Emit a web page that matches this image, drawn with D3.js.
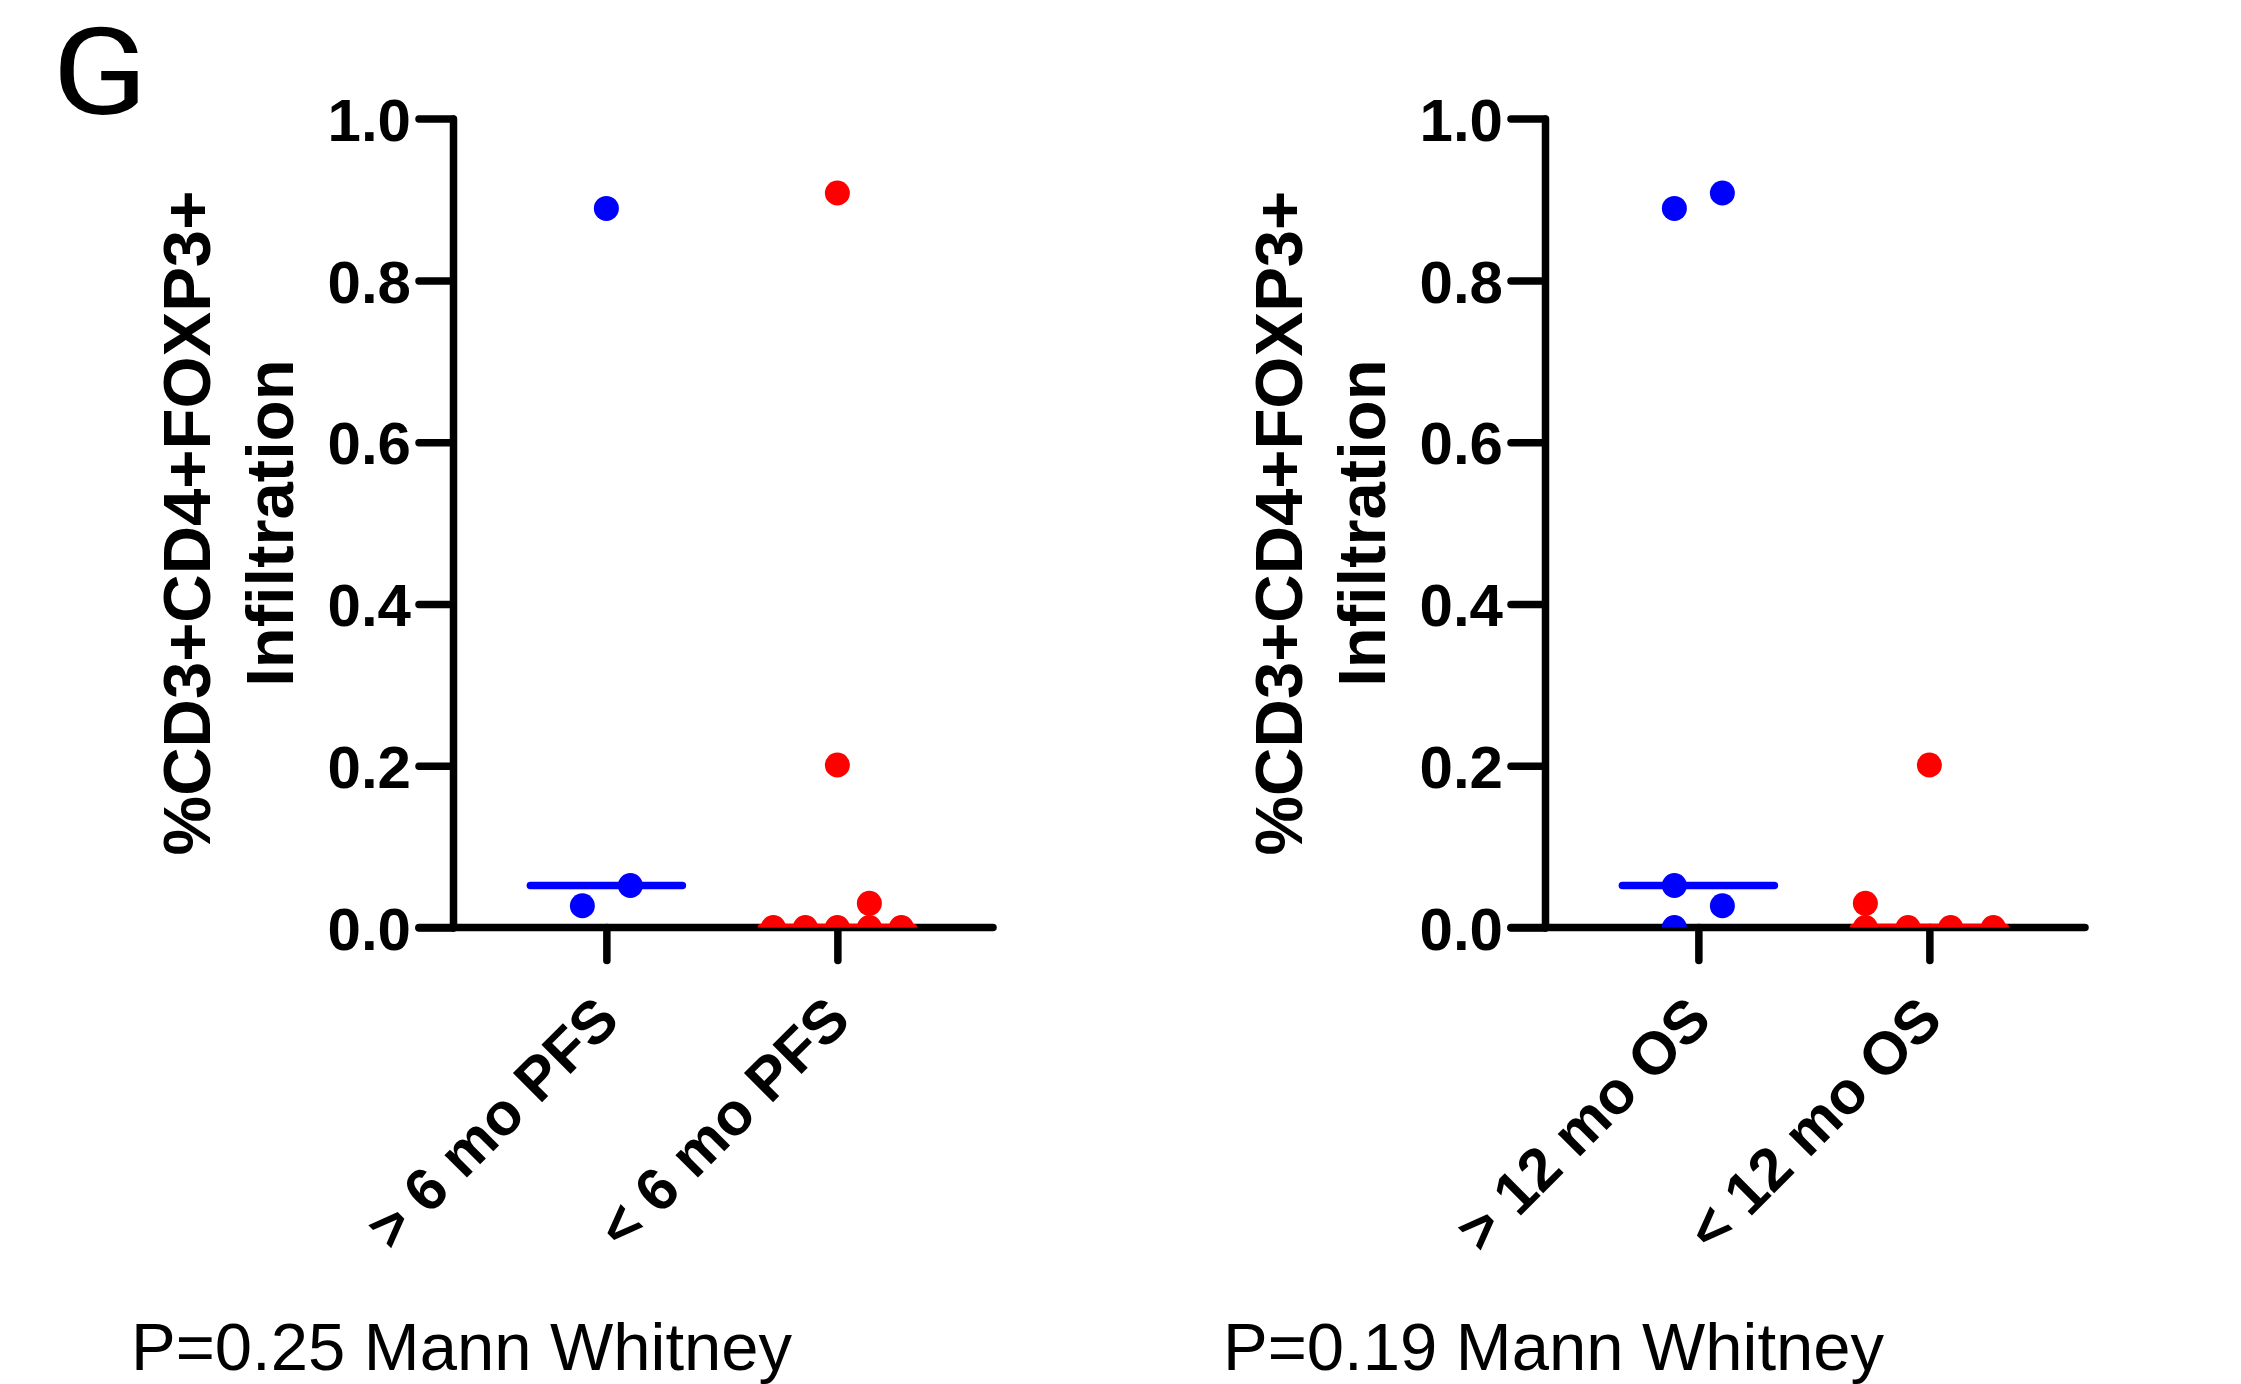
<!DOCTYPE html>
<html>
<head>
<meta charset="utf-8">
<script src="https://d3js.org/d3.v7.min.js"></script>
<style>
  html, body { margin: 0; padding: 0; background: #ffffff; }
  svg { display: block; }
</style>
</head>
<body>
<div id="chart"></div>
<script>
// ---------------- data ----------------
const panelLetter = "G";
const yTitleLines = ["%CD3+CD4+FOXP3+", "Infiltration"];
const yTicks = [0, 0.2, 0.4, 0.6, 0.8, 1.0];

const categoriesPFS = ["> 6 mo PFS", "< 6 mo PFS"];
const categoriesOS = ["> 12 mo OS", "< 12 mo OS"];

// values (fraction, 0..1)
const pfsLongValues  = [0.889, 0.052, 0.027];
const pfsShortValues = [0.908, 0.201, 0.03, 0, 0, 0, 0, 0];
const osLongValues   = [0.889, 0.908, 0.052, 0.027, 0];
const osShortValues  = [0.201, 0.03, 0, 0, 0, 0];

// horizontal scatter (jitter) of each point within its column, -1..1
const pfsLongJitter  = [0, 0.375, -0.375];
const pfsShortJitter = [0, 0, 0.5, -1, -0.5, 0, 0.5, 1];
const osLongJitter   = [-0.375, 0.375, -0.375, 0.375, -0.375];
const osShortJitter  = [0, -1, -1, -0.333, 0.333, 1];

const pTexts = ["P=0.25 Mann Whitney", "P=0.19 Mann Whitney"];
const groupColors = ["#0000ff", "#ff0000"];

// ---------------- layout ----------------
const W = 2241, H = 1384;
const svg = d3.select("#chart").append("svg")
  .attr("width", W).attr("height", H)
  .attr("viewBox", `0 0 ${W} ${H}`);
svg.append("rect").attr("width", W).attr("height", H).attr("fill", "#fff");

const boldFont = "'Liberation Sans', Arial, sans-serif";

svg.append("text")
  .attr("x", 52).attr("y", 114)
  .attr("font-family", "Roboto, 'Open Sans', sans-serif")
  .attr("font-size", 120)
  .attr("textLength", 96)
  .attr("lengthAdjust", "spacingAndGlyphs")
  .attr("fill", "#000")
  .text(panelLetter);

const axisW = 7.5;
const yTop = 118.6, yBottom = 927.6;

function drawPanel(offsetX, categories, groups, pText, idx) {
  const plotLeft = 453 + offsetX, plotRight = 997 + offsetX;
  const g = svg.append("g");

  const y = d3.scaleLinear().domain([0, 1]).range([yBottom, yTop]);
  const x = d3.scalePoint().domain(categories)
    .range([plotLeft, plotRight]).padding(0.6775).align(0.49);
  const jit = d3.scaleLinear().domain([-1, 1]).range([-64, 64]);

  // x axis baseline (extends left past y axis)
  g.append("line")
    .attr("x1", plotLeft - 34).attr("x2", plotRight - 4)
    .attr("y1", y(0)).attr("y2", y(0))
    .attr("stroke", "#000").attr("stroke-width", axisW)
    .attr("stroke-linecap", "round");

  // y axis
  const yAxis = g.append("g")
    .attr("transform", `translate(${plotLeft},0)`)
    .call(d3.axisLeft(y).tickValues(yTicks).tickSize(34).tickSizeOuter(0)
      .tickPadding(8).tickFormat(d3.format(".1f")));
  yAxis.select(".domain")
    .attr("stroke", "#000").attr("stroke-width", axisW)
    .attr("stroke-linecap", "round");
  yAxis.selectAll(".tick line")
    .attr("stroke", "#000").attr("stroke-width", axisW)
    .attr("stroke-linecap", "round");
  yAxis.selectAll(".tick text")
    .attr("font-family", boldFont).attr("font-weight", "bold")
    .attr("font-size", 60).attr("fill", "#000")
    .attr("dy", "0.36em");

  // x axis ticks and rotated labels
  const xAxis = g.append("g")
    .attr("transform", `translate(0,${y(0)})`)
    .call(d3.axisBottom(x).tickSize(33).tickSizeOuter(0));
  xAxis.select(".domain").remove();
  xAxis.selectAll(".tick line")
    .attr("stroke", "#000").attr("stroke-width", axisW)
    .attr("stroke-linecap", "round");
  xAxis.selectAll(".tick text")
    .attr("font-family", boldFont).attr("font-weight", "bold")
    .attr("font-size", 60).attr("fill", "#000")
    .attr("text-anchor", "end")
    .attr("x", 15).attr("y", 95).attr("dy", 0)
    .attr("transform", "rotate(-45 15 95)");

  // y-axis title
  const tx = [210, 293];
  yTitleLines.forEach((t, i) => {
    const cx = tx[i] + offsetX, cy = (yTop + yBottom) / 2;
    g.append("text")
      .attr("x", cx).attr("y", cy)
      .attr("transform", `rotate(-90 ${cx} ${cy})`)
      .attr("text-anchor", "middle")
      .attr("font-family", boldFont).attr("font-weight", "bold")
      .attr("font-size", 67).attr("fill", "#000")
      .text(t);
  });

  // data, clipped at the x axis
  const clipId = "clip" + idx;
  svg.append("clipPath").attr("id", clipId)
    .append("rect")
    .attr("x", plotLeft - 40).attr("y", 0)
    .attr("width", plotRight - plotLeft + 80).attr("height", y(0));
  const dg = g.append("g").attr("clip-path", `url(#${clipId})`);

  groups.forEach((grp, gi) => {
    const cx = x(categories[gi]);
    const pts = grp.values.map((v, i) => ({ v, j: grp.jitter[i] }));
    dg.selectAll(null).data(pts).enter().append("circle")
      .attr("cx", d => cx + jit(d.j))
      .attr("cy", d => y(d.v))
      .attr("r", 12.5)
      .attr("fill", groupColors[gi]);
    const med = d3.median(grp.values);
    dg.append("line")
      .attr("x1", cx - 76).attr("x2", cx + 76)
      .attr("y1", y(med)).attr("y2", y(med))
      .attr("stroke", groupColors[gi]).attr("stroke-width", 7.5)
      .attr("stroke-linecap", "round");
  });

  // p-value text
  g.append("text")
    .attr("x", 131 + offsetX).attr("y", 1370)
    .attr("font-family", boldFont)
    .attr("font-size", 67).attr("fill", "#000")
    .text(pText);
}

drawPanel(0, categoriesPFS, [
  { values: pfsLongValues, jitter: pfsLongJitter },
  { values: pfsShortValues, jitter: pfsShortJitter }
], pTexts[0], 0);

drawPanel(1092, categoriesOS, [
  { values: osLongValues, jitter: osLongJitter },
  { values: osShortValues, jitter: osShortJitter }
], pTexts[1], 1);
</script>
</body>
</html>
